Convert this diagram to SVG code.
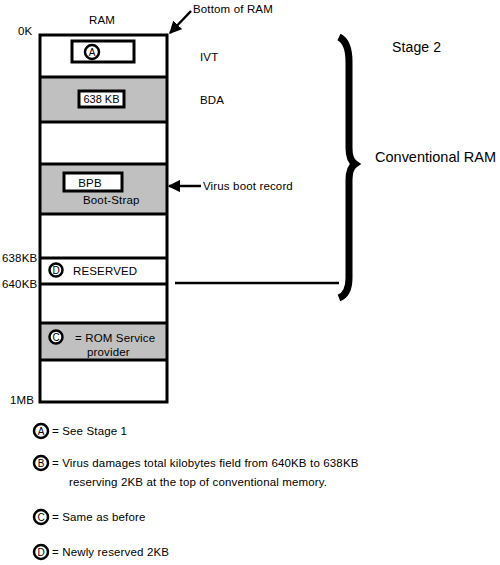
<svg xmlns="http://www.w3.org/2000/svg" width="500" height="565" viewBox="0 0 500 565">
<defs>
<style>
text{font-family:"Liberation Sans",Arial,sans-serif;font-size:11.5px;letter-spacing:0.15px;fill:#000}
.sep{stroke:#000;stroke-width:3;fill:none}
.gray{fill:#c0c0c0}
.ibox{fill:#fff;stroke:#000;stroke-width:3}
.circ{fill:#fff;stroke:#000;stroke-width:2.5}
.cl{font-size:10px;letter-spacing:0}
.sm{font-size:11px;letter-spacing:0}
.stage{font-size:14px;letter-spacing:0}
.conv{font-size:14.5px;letter-spacing:0}
.line{stroke:#000;stroke-width:2.5;fill:none}
</style>
<marker id="ah" viewBox="0 0 10 10" refX="9" refY="5" markerWidth="5" markerHeight="5" orient="auto">
<path d="M0,0 L10,5 L0,10 z" fill="#000"/>
</marker>
</defs>
<rect width="500" height="565" fill="#fff"/>

<g id="ram">
<rect x="40" y="77" width="127" height="45" class="gray"/>
<rect x="40" y="164" width="127" height="50" class="gray"/>
<rect x="40" y="323" width="127" height="37" class="gray"/>
<rect x="40" y="35" width="127" height="367" class="sep"/>
<line x1="40" y1="77" x2="167" y2="77" class="sep"/>
<line x1="40" y1="122" x2="167" y2="122" class="sep"/>
<line x1="40" y1="164" x2="167" y2="164" class="sep"/>
<line x1="40" y1="214" x2="167" y2="214" class="sep"/>
<line x1="40" y1="258" x2="167" y2="258" class="sep"/>
<line x1="40" y1="284" x2="167" y2="284" class="sep"/>
<line x1="40" y1="323" x2="167" y2="323" class="sep"/>
<line x1="40" y1="360" x2="167" y2="360" class="sep"/>
<text x="89" y="24">RAM</text>
<text x="18" y="35">0K</text>
<text x="2" y="262">638KB</text>
<text x="2" y="288">640KB</text>
<text x="10" y="404">1MB</text>
</g>

<g id="ivt">
<rect x="72" y="41" width="62" height="21" class="ibox"/>
<circle cx="92" cy="52" r="7" class="circ"/>
<text x="92" y="56" text-anchor="middle" class="cl">A</text>
<text x="200" y="61">IVT</text>
</g>

<g id="bda">
<rect x="79" y="91" width="45" height="16" class="ibox"/>
<text x="101.5" y="103" text-anchor="middle" class="sm">638 KB</text>
<text x="200" y="104">BDA</text>
</g>

<g id="bootstrap">
<rect x="64" y="173" width="58" height="18" class="ibox"/>
<text x="90" y="187" text-anchor="middle">BPB</text>
<text x="83" y="204">Boot-Strap</text>
</g>

<g id="reserved">
<circle cx="56" cy="270" r="6.5" class="circ"/>
<text x="56" y="274" text-anchor="middle" class="cl">D</text>
<text x="73" y="275">RESERVED</text>
</g>

<g id="rom">
<circle cx="56" cy="337" r="6.5" class="circ"/>
<text x="56" y="341" text-anchor="middle" class="cl">C</text>
<text x="75" y="342">= ROM Service</text>
<text x="87" y="356">provider</text>
</g>

<g id="labels">
<text x="193" y="13">Bottom of RAM</text>
<text x="203" y="190">Virus boot record</text>
<text x="392" y="52" class="stage" textLength="49" lengthAdjust="spacing">Stage 2</text>
<text x="375" y="162" class="conv" textLength="121" lengthAdjust="spacing">Conventional RAM</text>
</g>

<g id="brace">
<path d="M339,37 Q349,42 349,62 L349,148 Q349,160 355,164 Q349,168 349,180 L349,278 Q349,294 339,298" fill="none" stroke="#000" stroke-width="7"/>
</g>

<g id="connectors">
<line x1="191" y1="11" x2="170" y2="33" class="line" marker-end="url(#ah)"/>
<line x1="201" y1="186" x2="169" y2="186" class="line" marker-end="url(#ah)"/>
<line x1="175" y1="283" x2="339" y2="283" class="line"/>
</g>

<g id="legend">
<circle cx="41" cy="431" r="7" class="circ"/>
<text x="41" y="435" text-anchor="middle" class="cl">A</text>
<text x="52" y="435">= See Stage 1</text>
<circle cx="41" cy="463" r="7" class="circ"/>
<text x="41" y="467" text-anchor="middle" class="cl">B</text>
<text x="52" y="467">= Virus damages total kilobytes field from 640KB to 638KB</text>
<text x="69" y="486">reserving 2KB at the top of conventional memory.</text>
<circle cx="41" cy="517" r="7" class="circ"/>
<text x="41" y="521" text-anchor="middle" class="cl">C</text>
<text x="52" y="521">= Same as before</text>
<circle cx="41" cy="552" r="7" class="circ"/>
<text x="41" y="556" text-anchor="middle" class="cl">D</text>
<text x="52" y="556">= Newly reserved 2KB</text>
</g>
</svg>
